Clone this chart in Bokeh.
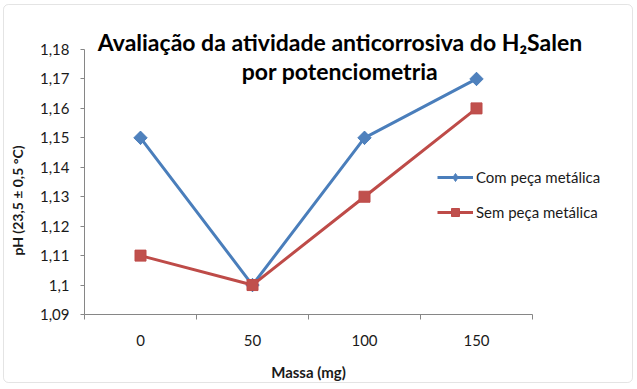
import math
from bokeh.plotting import figure
from bokeh.models import LinearAxis, FixedTicker, Label, Legend, LegendItem, Range1d, BoxAnnotation
from bokeh.embed import file_html
from bokeh.resources import INLINE

# ---- data ----
masses = [0, 50, 100, 150]
com_peca = [1.15, 1.10, 1.15, 1.17]
sem_peca = [1.11, 1.10, 1.13, 1.16]
y_ticks = [1.09, 1.10, 1.11, 1.12, 1.13, 1.14, 1.15, 1.16, 1.17, 1.18]
series_names = ["Com peça metálica", "Sem peça metálica"]
title_lines = ["Avaliação da atividade anticorrosiva do H\u2082Salen", "por potenciometria"]
x_title = "Massa (mg)"
y_title = "pH (23,5 \u00b1 0,5 \u00b0C)"

# ---- styling / layout ----
FONT = "Lato"
AXIS_GRAY = "#868686"
TEXT = "#1a1a1a"
BLUE = "#4A7EBB"
BLUE_M = "#4F81BD"
RED = "#BE4B48"
RED_M = "#C0504D"

W, H = 635, 387
# plot area (pixels from canvas top-left)
PX_L, PX_R, PX_T, PX_B = 84, 532, 49, 314

def fmt(v):
    s = f"{v:.2f}".rstrip("0").rstrip(".")
    return s.replace(".", ",")

step = masses[1] - masses[0]
bounds = [m - step / 2 for m in masses] + [masses[-1] + step / 2]
x0, x1 = bounds[0], bounds[-1]
y0, y1 = y_ticks[0], y_ticks[-1]
kx = (PX_R - PX_L) / (x1 - x0)
ky = (PX_B - PX_T) / (y1 - y0)

x_range = Range1d(x0 - PX_L / kx, x1 + (W - PX_R) / kx)
y_range = Range1d(y0 - (H - PX_B) / ky, y1 + PX_T / ky)

p = figure(width=W, height=H, x_range=x_range, y_range=y_range,
           x_axis_type=None, y_axis_type=None,
           output_backend="svg", toolbar_location=None,
           min_border=0, min_border_left=0, min_border_right=0,
           min_border_top=0, min_border_bottom=0)
p.title.visible = False
p.outline_line_color = None
p.background_fill_color = "white"
p.border_fill_color = "white"
p.xgrid.visible = False
p.ygrid.visible = False

yax = LinearAxis(ticker=FixedTicker(ticks=y_ticks, minor_ticks=[]),
                 major_label_overrides={t: fmt(t) for t in y_ticks},
                 fixed_location=x0, bounds=(y0, y1))
yax.axis_line_color = AXIS_GRAY
yax.major_tick_line_color = AXIS_GRAY
yax.major_tick_out = 4
yax.major_tick_in = 0
yax.minor_tick_line_color = None
yax.major_label_standoff = 11
yax.major_label_text_font = FONT
yax.major_label_text_font_size = "15px"
yax.major_label_text_color = TEXT
p.add_layout(yax, "left")

xax = LinearAxis(ticker=FixedTicker(ticks=masses, minor_ticks=bounds),
                 fixed_location=y0, bounds=(x0, x1))
xax.axis_line_color = AXIS_GRAY
xax.major_tick_line_color = None
xax.major_tick_out = 0
xax.major_tick_in = 0
xax.minor_tick_line_color = AXIS_GRAY
xax.minor_tick_out = 5
xax.minor_tick_in = 0
xax.major_label_standoff = 15
xax.major_label_text_font = FONT
xax.major_label_text_font_size = "15px"
xax.major_label_text_color = TEXT
p.add_layout(xax, "below")

l1 = p.line(masses, com_peca, line_color=BLUE, line_width=3)
# diamond used for the legend key; fully covered by the 45-degree square markers
s1_key = p.scatter(masses, com_peca, marker="diamond", size=13,
                   fill_color=BLUE_M, line_color=BLUE_M)
s1 = p.scatter(masses, com_peca, marker="square", angle=math.pi / 4, size=9.5,
               fill_color=BLUE_M, line_color=BLUE_M)
l2 = p.line(masses, sem_peca, line_color=RED, line_width=3)
s2 = p.scatter(masses, sem_peca, marker="square", size=11, fill_color=RED_M, line_color=RED)

legend = Legend(items=[LegendItem(label=series_names[0], renderers=[l1, s1_key]),
                       LegendItem(label=series_names[1], renderers=[l2, s2])],
                location=(437, H - 222), orientation="vertical")
legend.border_line_color = None
legend.background_fill_alpha = 0
legend.padding = 0
legend.margin = 0
legend.spacing = 15
legend.glyph_width = 36
legend.glyph_height = 20
legend.label_height = 20
legend.label_standoff = 3
legend.label_text_font = FONT
legend.label_text_font_size = "15px"
legend.label_text_color = TEXT
p.add_layout(legend, "center")

p.add_layout(Label(x=339.5, y=H - 41, x_units="screen", y_units="screen", text=title_lines[0],
                   text_align="center", text_baseline="alphabetic",
                   text_font=FONT, text_font_size="23px", text_font_style="bold", text_color="black"))
p.add_layout(Label(x=339.5, y=H - 70, x_units="screen", y_units="screen", text=title_lines[1],
                   text_align="center", text_baseline="alphabetic",
                   text_font=FONT, text_font_size="23px", text_font_style="bold", text_color="black"))
p.add_layout(Label(x=308, y=H - 371, x_units="screen", y_units="screen", text=x_title,
                   text_align="center", text_baseline="middle",
                   text_font=FONT, text_font_size="15px", text_font_style="bold", text_color=TEXT))
p.add_layout(Label(x=17, y=H - 200, x_units="screen", y_units="screen", text=y_title, angle=math.pi / 2,
                   text_align="center", text_baseline="middle",
                   text_font=FONT, text_font_size="14px", text_font_style="bold", text_color=TEXT))

p.add_layout(BoxAnnotation(left=3, right=632, top=H - 4, bottom=H - 382,
                           left_units="screen", right_units="screen",
                           top_units="screen", bottom_units="screen",
                           fill_alpha=0, line_color="#a6a6a6", line_width=1, border_radius=5))

open("out.html", "w").write(file_html(p, INLINE))
